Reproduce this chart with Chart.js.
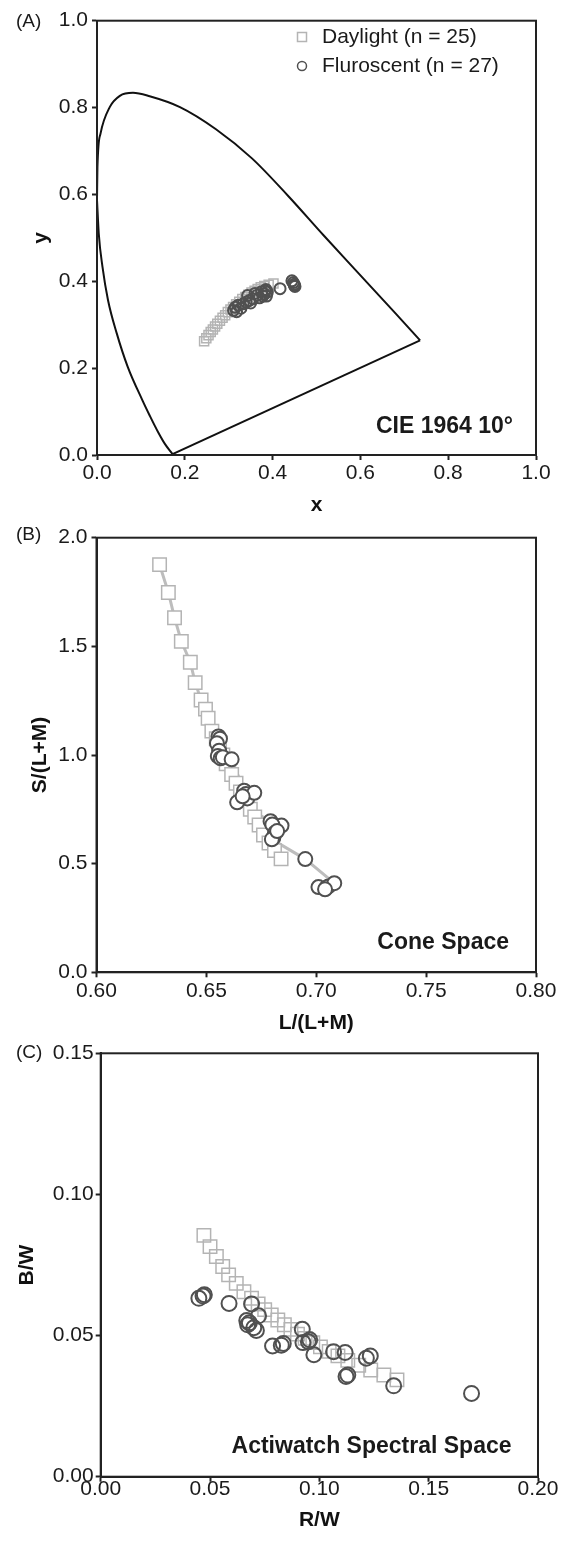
<!DOCTYPE html>
<html>
<head>
<meta charset="utf-8">
<script src="https://cdn.jsdelivr.net/npm/chart.js@4.4.1/dist/chart.umd.min.js"></script>
<style>
    body { margin: 0; background: #fff; width: 561px; height: 1545px; position: relative; overflow: hidden; }
    .painel { position: absolute; left: 0; width: 561px; }
</style>
</head>
<body>
<div class="painel" style="top:0;height:520px"><canvas id="graficoA"></canvas></div>
<div class="painel" style="top:520px;height:515px"><canvas id="graficoB"></canvas></div>
<div class="painel" style="top:1035px;height:510px"><canvas id="graficoC"></canvas></div>
<script>
// dados

// (A) CIE 1964 10° - locus em dois ramos (x crescente em cada um)
const ramoInfX = [0.000, 0.004, 0.0125, 0.025, 0.045, 0.070, 0.103, 0.120, 0.139, 0.155, 0.172];
const ramoInfY = [0.587, 0.510, 0.433, 0.357, 0.280, 0.203, 0.127, 0.091, 0.053, 0.025, 0.002];
const ramoSupX = [0.000, 0.001, 0.008, 0.029, 0.052, 0.082, 0.120, 0.189, 0.271, 0.353, 0.435, 0.516, 0.598, 0.680, 0.736];
const ramoSupY = [0.587, 0.663, 0.740, 0.801, 0.827, 0.834, 0.826, 0.801, 0.750, 0.683, 0.597, 0.506, 0.416, 0.326, 0.264];
const purpuraX = [0.172, 0.736];
const purpuraY = [0.002, 0.264];

const cieDiaX = [0.244, 0.249, 0.254, 0.259, 0.264, 0.269, 0.274, 0.280, 0.286, 0.292, 0.298, 0.304, 0.310, 0.317, 0.324, 0.331, 0.338, 0.345, 0.352, 0.359, 0.366, 0.373, 0.381, 0.391, 0.402];
const cieDiaY = [0.262, 0.269, 0.276, 0.283, 0.289, 0.296, 0.302, 0.309, 0.316, 0.322, 0.329, 0.335, 0.341, 0.347, 0.353, 0.359, 0.364, 0.369, 0.374, 0.378, 0.382, 0.386, 0.389, 0.392, 0.395];
const cieFluX = [0.311, 0.315, 0.318, 0.322, 0.328, 0.333, 0.340, 0.343, 0.347, 0.350, 0.355, 0.360, 0.365, 0.370, 0.375, 0.378, 0.381, 0.383, 0.385, 0.386, 0.388, 0.417, 0.444, 0.447, 0.450, 0.451, 0.449];
const cieFluY = [0.333, 0.340, 0.330, 0.345, 0.338, 0.348, 0.352, 0.367, 0.356, 0.350, 0.360, 0.372, 0.368, 0.362, 0.376, 0.366, 0.371, 0.378, 0.381, 0.366, 0.375, 0.383, 0.401, 0.397, 0.390, 0.388, 0.393];

// (B) espaço de cones
const coneDiaX = [0.6287, 0.6327, 0.6355, 0.6386, 0.6427, 0.6449, 0.6476, 0.6496, 0.6508, 0.6525, 0.6545, 0.6560, 0.6575, 0.6590, 0.6615, 0.6635, 0.6655, 0.6675, 0.6700, 0.6720, 0.6740, 0.6760, 0.6785, 0.6810, 0.6840];
const coneDiaY = [1.876, 1.748, 1.632, 1.523, 1.427, 1.333, 1.253, 1.211, 1.169, 1.110, 1.075, 1.040, 1.000, 0.960, 0.910, 0.870, 0.830, 0.790, 0.750, 0.715, 0.678, 0.632, 0.595, 0.560, 0.522];
const coneFluX = [0.6555, 0.6562, 0.6548, 0.6558, 0.6552, 0.6565, 0.6575, 0.6615, 0.6672, 0.6680, 0.6686, 0.6718, 0.6640, 0.6665, 0.6792, 0.6842, 0.6800, 0.6812, 0.6805, 0.6798, 0.6822, 0.6950, 0.7010, 0.7045, 0.7055, 0.7082, 0.7040];
const coneFluY = [1.085, 1.075, 1.054, 1.020, 0.995, 0.985, 0.990, 0.980, 0.836, 0.820, 0.800, 0.826, 0.782, 0.810, 0.695, 0.675, 0.680, 0.642, 0.620, 0.612, 0.650, 0.521, 0.392, 0.388, 0.395, 0.410, 0.382];

// (C) espaço espectral do Actiwatch
const actiDiaX = [0.0472, 0.0500, 0.0529, 0.0558, 0.0585, 0.0620, 0.0655, 0.0690, 0.0720, 0.0750, 0.0780, 0.0810, 0.0840, 0.0870, 0.0900, 0.0935, 0.0970, 0.1005, 0.1045, 0.1085, 0.1130, 0.1180, 0.1235, 0.1295, 0.1355];
const actiDiaY = [0.0855, 0.0815, 0.0780, 0.0745, 0.0715, 0.0685, 0.0655, 0.0632, 0.0612, 0.0592, 0.0573, 0.0555, 0.0538, 0.0522, 0.0505, 0.0490, 0.0475, 0.0460, 0.0444, 0.0428, 0.0412, 0.0395, 0.0378, 0.0360, 0.0343];
const actiFluX = [0.0449, 0.0468, 0.0474, 0.0587, 0.0690, 0.0668, 0.0672, 0.0680, 0.0722, 0.0712, 0.0700, 0.0786, 0.0826, 0.0835, 0.0922, 0.0925, 0.0950, 0.0975, 0.1065, 0.1118, 0.1122, 0.1130, 0.1215, 0.1233, 0.1340, 0.1696, 0.0956];
const actiFluY = [0.0632, 0.0640, 0.0645, 0.0614, 0.0612, 0.0553, 0.0538, 0.0545, 0.0570, 0.0518, 0.0528, 0.0463, 0.0466, 0.0472, 0.0522, 0.0475, 0.0478, 0.0432, 0.0443, 0.0440, 0.0355, 0.0360, 0.0420, 0.0428, 0.0322, 0.0295, 0.0485];

// ticks
const ticksUm = [0, 0.2, 0.4, 0.6, 0.8, 1.0];
const ticksConeX = [0.60, 0.65, 0.70, 0.75, 0.80];
const ticksConeY = [0, 0.5, 1.0, 1.5, 2.0];
const ticksActiX = [0, 0.05, 0.10, 0.15, 0.20];
const ticksActiY = [0, 0.05, 0.10, 0.15];

const NOME_DIA = 'Daylight (n = 25)';
const NOME_FLU = 'Fluroscent (n = 27)';

const fonte = "'Liberation Sans', Arial, Helvetica, sans-serif";
Chart.defaults.font.family = fonte;
Chart.defaults.color = '#1a1a1a';

const COR_DIA = '#b4b4b4';
const COR_FLU = '#505050';
const COR_LINHA = '#bdbdbd';

// funções

function pares(xs, ys) {
    return xs.map((x, i) => ({ x, y: ys[i] }));
}

function eixo(cfg) {
    return {
        type: 'linear', position: cfg.pos, min: cfg.min, max: cfg.max,
        afterBuildTicks: s => { s.ticks = cfg.ticks.map(v => ({ value: v })); },
        afterFit: s => { if (cfg.pos === 'left') s.width = cfg.tam; else s.height = cfg.tam; },
        ticks: { autoSkip: false, maxRotation: 0, padding: cfg.pad, font: { size: 21 }, color: '#1a1a1a', callback: v => Number(v).toFixed(cfg.dec) },
        grid: { drawOnChartArea: false, tickLength: 5, tickWidth: 2, tickColor: '#222' },
        border: { display: true, width: 2, color: '#222' },
        title: {
            display: true, text: cfg.titulo, color: '#111',
            font: { size: 21, weight: 'bold', lineHeight: 1 },
            padding: cfg.pos === 'left' ? { top: cfg.tpad, bottom: 0 } : { top: 0, bottom: cfg.tpad }
        }
    };
}

// moldura, textos e legenda desenhados por cima
function criarRotulos(textos, legenda) {
    return {
        id: 'rotulos',
        afterDraw(chart) {
            const { ctx, chartArea: a } = chart;
            ctx.save();
            ctx.strokeStyle = '#222';
            ctx.lineWidth = 2;
            ctx.strokeRect(a.left, a.top, a.right - a.left, a.bottom - a.top);

            ctx.fillStyle = '#1a1a1a';
            ctx.textBaseline = 'middle';
            textos.forEach(t => {
                ctx.font = `${t.peso || ''} ${t.tam}px ${fonte}`;
                ctx.textAlign = t.alinha;
                ctx.fillText(t.texto, t.x, t.y);
            });

            legenda.forEach(item => {
                const ds = chart.data.datasets[item.ds];
                ctx.strokeStyle = ds.pointBorderColor;
                ctx.lineWidth = 1.5;
                if (ds.pointStyle === 'rect') {
                    ctx.strokeRect(item.x - 4.5, item.y - 4.5, 9, 9);
                } else {
                    ctx.beginPath();
                    ctx.arc(item.x, item.y, 4.5, 0, Math.PI * 2);
                    ctx.stroke();
                }
                ctx.font = `21px ${fonte}`;
                ctx.textAlign = 'left';
                ctx.fillStyle = '#1a1a1a';
                ctx.fillText(ds.label, item.x + 20, item.y);
            });
            ctx.restore();
        }
    };
}

function criarGrafico(id, datasets, area, eixoX, eixoY, textos, legenda) {
    return new Chart(document.getElementById(id), {
        type: 'scatter',
        data: { datasets },
        options: {
            responsive: true, maintainAspectRatio: false, animation: false, events: [],
            layout: { padding: { left: 0, top: area.top, right: 561 - area.right, bottom: 0 } },
            plugins: { legend: { display: false }, tooltip: { enabled: false } },
            scales: { x: eixo(eixoX), y: eixo(eixoY) }
        },
        plugins: [criarRotulos(textos, legenda || [])]
    });
}

const estiloLocus = { order: 3, showLine: true, cubicInterpolationMode: 'monotone', borderColor: '#111', borderWidth: 2, pointRadius: 0 };

// (A)
criarGrafico('graficoA', [
    { label: NOME_DIA, data: pares(cieDiaX, cieDiaY), order: 2, pointStyle: 'rect', pointRadius: 6.4, pointBorderWidth: 1.5, pointBorderColor: COR_DIA, pointBackgroundColor: 'rgba(0,0,0,0)' },
    { label: NOME_FLU, data: pares(cieFluX, cieFluY), order: 1, pointStyle: 'circle', pointRadius: 5.5, pointBorderWidth: 2, pointBorderColor: COR_FLU, pointBackgroundColor: 'rgba(0,0,0,0)' },
    { label: 'ramo inferior', data: pares(ramoInfX, ramoInfY), ...estiloLocus },
    { label: 'ramo superior', data: pares(ramoSupX, ramoSupY), ...estiloLocus },
    { label: 'purpura', data: pares(purpuraX, purpuraY), ...estiloLocus, cubicInterpolationMode: 'default', tension: 0 }
], { top: 20.7, right: 536 },
{ pos: 'bottom', min: 0, max: 1, ticks: ticksUm, dec: 1, tam: 65, pad: 1, titulo: 'x', tpad: 4.5 },
{ pos: 'left', min: 0, max: 1, ticks: ticksUm, dec: 1, tam: 97, pad: 4, titulo: 'y', tpad: 30.5 },
[
    { texto: '(A)', x: 16, y: 22, tam: 19, alinha: 'left' },
    { texto: 'CIE 1964 10°', x: 513, y: 427, tam: 23, peso: 'bold', alinha: 'right' }
],
[{ ds: 0, x: 302, y: 37 }, { ds: 1, x: 302, y: 66 }]);

// (B)
criarGrafico('graficoB', [
    { label: NOME_FLU, data: pares(coneFluX, coneFluY), order: 1, pointStyle: 'circle', pointRadius: 7, pointBorderWidth: 2, pointBorderColor: COR_FLU, pointBackgroundColor: '#fff' },
    { label: NOME_DIA, data: pares(coneDiaX, coneDiaY), order: 2, showLine: true, borderColor: COR_LINHA, borderWidth: 3, pointStyle: 'rect', pointRadius: 9.5, pointBorderWidth: 1.5, pointBorderColor: COR_DIA, pointBackgroundColor: '#fff' },
    { label: 'linha', data: pares(coneFluX, coneFluY).sort((p, q) => q.y - p.y), order: 3, showLine: true, borderColor: COR_LINHA, borderWidth: 3, pointRadius: 0 }
], { top: 17.7, right: 536 },
{ pos: 'bottom', min: 0.6, max: 0.8, ticks: ticksConeX, dec: 2, tam: 62.7, pad: 1, titulo: 'L/(L+M)', tpad: 1.5 },
{ pos: 'left', min: 0, max: 2, ticks: ticksConeY, dec: 1, tam: 96.5, pad: 4, titulo: 'S/(L+M)', tpad: 29.5 },
[
    { texto: '(B)', x: 16, y: 14.5, tam: 19, alinha: 'left' },
    { texto: 'Cone Space', x: 509, y: 423, tam: 23, peso: 'bold', alinha: 'right' }
]);

// (C)
criarGrafico('graficoC', [
    { label: NOME_FLU, data: pares(actiFluX, actiFluY), order: 1, pointStyle: 'circle', pointRadius: 7.5, pointBorderWidth: 2, pointBorderColor: COR_FLU, pointBackgroundColor: 'rgba(0,0,0,0)' },
    { label: NOME_DIA, data: pares(actiDiaX, actiDiaY), order: 2, pointStyle: 'rect', pointRadius: 9.5, pointBorderWidth: 1.5, pointBorderColor: COR_DIA, pointBackgroundColor: 'rgba(0,0,0,0)' }
], { top: 18.3, right: 538 },
{ pos: 'bottom', min: 0, max: 0.2, ticks: ticksActiX, dec: 2, tam: 68.3, pad: -5, titulo: 'R/W', tpad: 14.5 },
{ pos: 'left', min: 0, max: 0.15, ticks: ticksActiY, dec: 2, tam: 100.7, pad: 2, titulo: 'B/W', tpad: 16.5 },
[
    { texto: '(C)', x: 16, y: 18, tam: 19, alinha: 'left' },
    { texto: 'Actiwatch Spectral Space', x: 511.5, y: 412, tam: 23, peso: 'bold', alinha: 'right' }
]);
</script>
</body>
</html>
